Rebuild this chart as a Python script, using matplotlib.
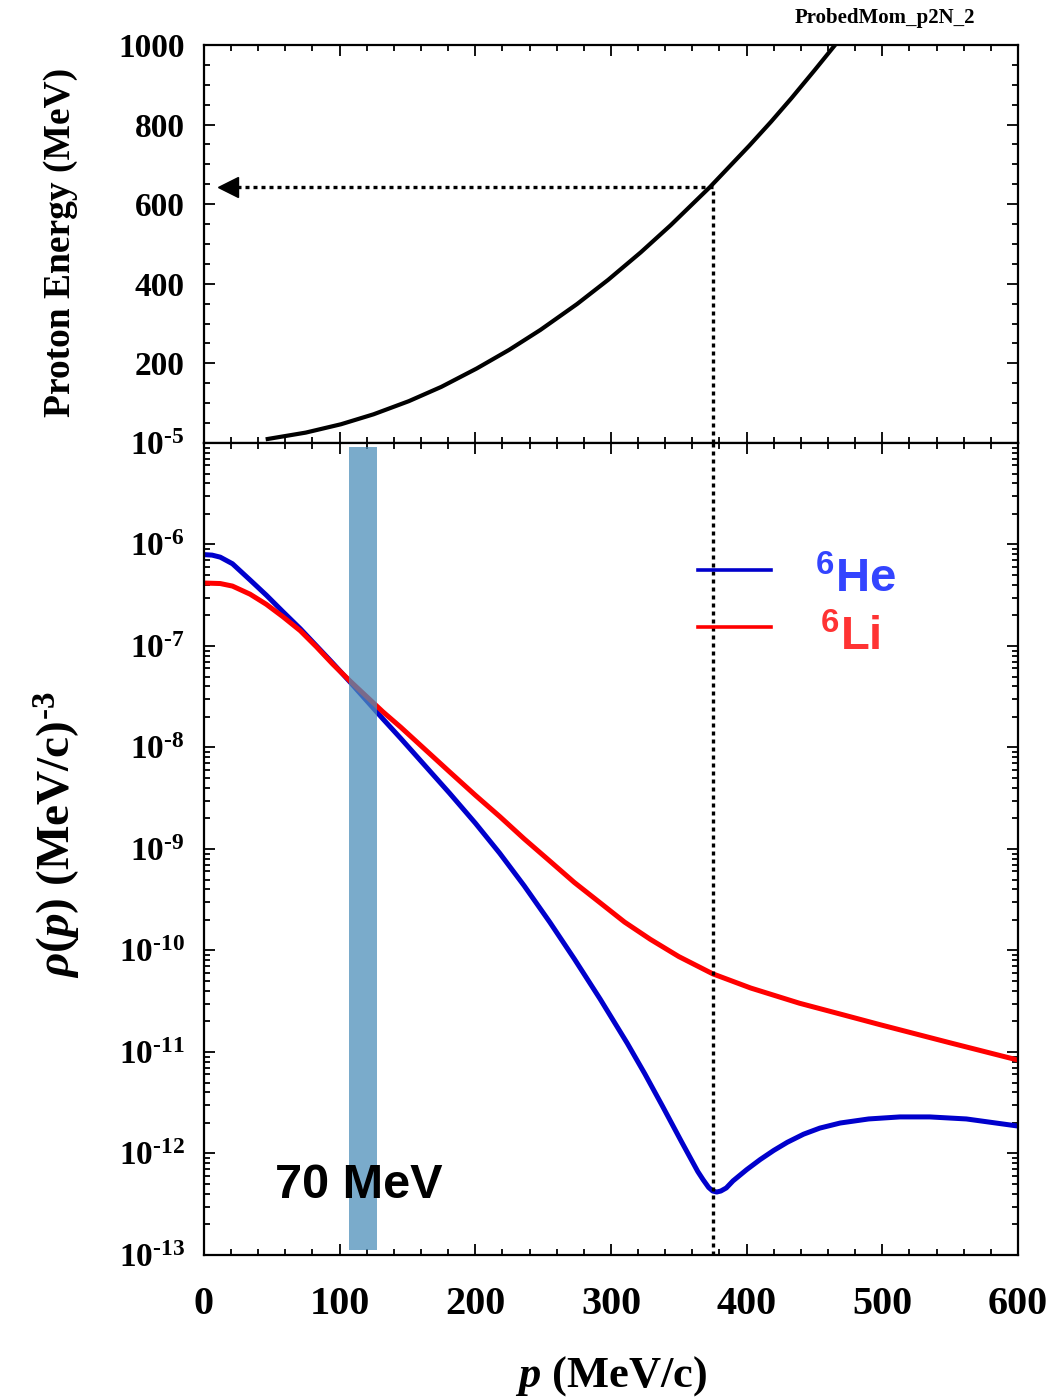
import numpy as np
import matplotlib
matplotlib.use('Agg')
import matplotlib.pyplot as plt
from matplotlib.ticker import MultipleLocator, LogLocator, FuncFormatter, NullFormatter

plt.rcParams['font.family'] = ['Liberation Serif', 'DejaVu Serif']
plt.rcParams['font.weight'] = 'bold'
plt.rcParams['mathtext.fontset'] = 'custom'
plt.rcParams['mathtext.rm'] = 'Liberation Serif:bold'
plt.rcParams['mathtext.it'] = 'Liberation Serif:italic:bold'
plt.rcParams['mathtext.bf'] = 'Liberation Sans:bold'
plt.rcParams['mathtext.sf'] = 'Liberation Sans:bold'

# top panel: proton energy vs momentum
p_energy = [47, 75, 101, 125, 151, 175, 201, 225, 248, 275, 298, 322, 344, 373, 402, 418, 433, 450, 465]
proton_energy = [10, 26, 47, 72, 105, 141, 187, 234, 284, 349, 410, 479, 547, 643, 747, 807, 866, 936, 999]

# bottom panel: momentum distributions, log10 of rho(p)
p_he6 = [0, 6, 12, 21, 34, 46, 58, 71, 83, 95, 108, 120, 132, 145, 163, 181, 200, 218, 236, 255, 273,
         292, 312, 325, 338, 352, 364, 368, 372, 375, 378, 381, 385, 390, 400, 410, 420, 430, 442,
         454, 469, 490, 513, 535, 562, 600]
log_rho_he6 = [-6.10, -6.105, -6.125, -6.19, -6.35, -6.50, -6.66, -6.83, -7.00, -7.17, -7.36, -7.54,
               -7.72, -7.91, -8.18, -8.45, -8.745, -9.042, -9.362, -9.723, -10.083, -10.478,
               -10.914, -11.216, -11.534, -11.884, -12.178, -12.26, -12.335, -12.37, -12.38,
               -12.37, -12.34, -12.27, -12.16, -12.06, -11.97, -11.89, -11.81, -11.75, -11.70,
               -11.66, -11.64, -11.64, -11.66, -11.73]
p_li6 = [0, 12, 21, 34, 46, 58, 71, 83, 95, 108, 120, 132, 145, 163, 181, 200, 218, 236, 255, 273,
         292, 310, 329, 350, 375, 403, 439, 470, 498, 550, 600]
log_rho_li6 = [-6.38, -6.385, -6.41, -6.49, -6.59, -6.71, -6.85, -7.01, -7.18, -7.35, -7.50, -7.65,
               -7.80, -8.02, -8.24, -8.47, -8.68, -8.90, -9.12, -9.33, -9.53, -9.72, -9.89, -10.06,
               -10.23, -10.37, -10.52, -10.63, -10.73, -10.91, -11.08]

# probed momentum and the 70 MeV band
p_probe = 375
e_probe = 643
band_lo, band_hi = 107, 127.5

blue = '#0000cc'
red = '#ff0000'
dotted = (0, (1.2, 1.2))

fig = plt.figure(figsize=(10.53, 14), dpi=100)
ax_top = fig.add_axes([0.1937, 0.6836, 0.7730, 0.2843])
ax_bot = fig.add_axes([0.1937, 0.1036, 0.7730, 0.5800])

# --- top panel
ax_top.plot(p_energy, proton_energy, color='black', lw=3)
ax_top.plot([p_probe, p_probe], [0, e_probe], color='black', lw=2.4, ls=dotted)
ax_top.plot([p_probe, 24], [e_probe, e_probe], color='black', lw=2.4, ls=dotted)
ax_top.plot([17.7], [e_probe], marker='<', ms=14.5, color='black', lw=0)
ax_top.set_xlim(0, 600)
ax_top.set_ylim(0, 1000)
ax_top.xaxis.set_major_locator(MultipleLocator(100))
ax_top.xaxis.set_minor_locator(MultipleLocator(20))
ax_top.yaxis.set_major_locator(MultipleLocator(200))
ax_top.yaxis.set_minor_locator(MultipleLocator(50))
ax_top.set_xticklabels([])
ax_top.yaxis.set_major_formatter(FuncFormatter(lambda v, pos: '' if v == 0 else '%d' % v))

# --- bottom panel
ax_bot.plot(p_he6, 10 ** np.array(log_rho_he6), color=blue, lw=3.6, zorder=2)
ax_bot.plot(p_li6, 10 ** np.array(log_rho_li6), color=red, lw=3.6, zorder=2)
ax_bot.axvspan(band_lo, band_hi, ymin=0.006, ymax=0.995, facecolor=(0.30, 0.56, 0.73),
               alpha=0.75, lw=0, zorder=3)
ax_bot.axvline(p_probe, color='black', lw=2.4, ls=dotted, zorder=2)
ax_bot.set_yscale('log')
ax_bot.set_xlim(0, 600)
ax_bot.set_ylim(1e-13, 1e-5)
ax_bot.xaxis.set_major_locator(MultipleLocator(100))
ax_bot.xaxis.set_minor_locator(MultipleLocator(20))
ax_bot.yaxis.set_major_locator(LogLocator(base=10, numticks=20))
ax_bot.yaxis.set_minor_locator(LogLocator(base=10, subs=np.arange(2, 10), numticks=20))
ax_bot.yaxis.set_minor_formatter(NullFormatter())
ax_bot.yaxis.set_major_formatter(
    FuncFormatter(lambda v, pos: r'$\mathrm{10^{\text{-}%d}}$' % -round(np.log10(v))))

# legend drawn by hand
ax_bot.plot([0.607, 0.697], [0.844, 0.844], transform=ax_bot.transAxes, color=blue, lw=2.6)
ax_bot.plot([0.607, 0.697], [0.773, 0.773], transform=ax_bot.transAxes, color=red, lw=2.6)
ax_bot.text(0.751, 0.8165, r'$\mathbf{^{6}He}$', transform=ax_bot.transAxes, color='#3344ff',
            fontsize=34, ha='left', va='baseline')
ax_bot.text(0.757, 0.745, r'$\mathbf{^{6}Li}$', transform=ax_bot.transAxes, color='#ff3333',
            fontsize=34, ha='left', va='baseline')
ax_bot.text(52, 10 ** -12.44, '70 MeV', family='Liberation Sans', fontweight='bold',
            fontsize=35, ha='left', va='baseline', zorder=4)

for ax in (ax_top, ax_bot):
    for s in ax.spines.values():
        s.set_linewidth(1.6)
    ax.tick_params(which='both', direction='in', top=True, right=True, width=1.3)
    ax.tick_params(which='major', length=8)
    ax.tick_params(which='minor', length=4.5)
    ax.tick_params(axis='y', which='major', labelsize=24, pad=14)
ax_bot.tick_params(axis='x', which='major', labelsize=29, pad=22)

fig.text(0.057, 0.827, 'Proton Energy (MeV)', rotation=90, ha='center', va='center',
         fontsize=27)
fig.text(0.055, 0.4036, r'$\rho(p)$ (MeV/c)$^{\mathrm{\text{-}3}}$', rotation=90, ha='center',
         va='center', fontsize=34)
fig.text(0.58, 0.017, r'$p$ (MeV/c)', ha='center', va='center', fontsize=32)
fig.text(0.8405, 0.987, 'ProbedMom_p2N_2', ha='center', va='center', fontsize=15)

fig.savefig('out.png', dpi=100)
